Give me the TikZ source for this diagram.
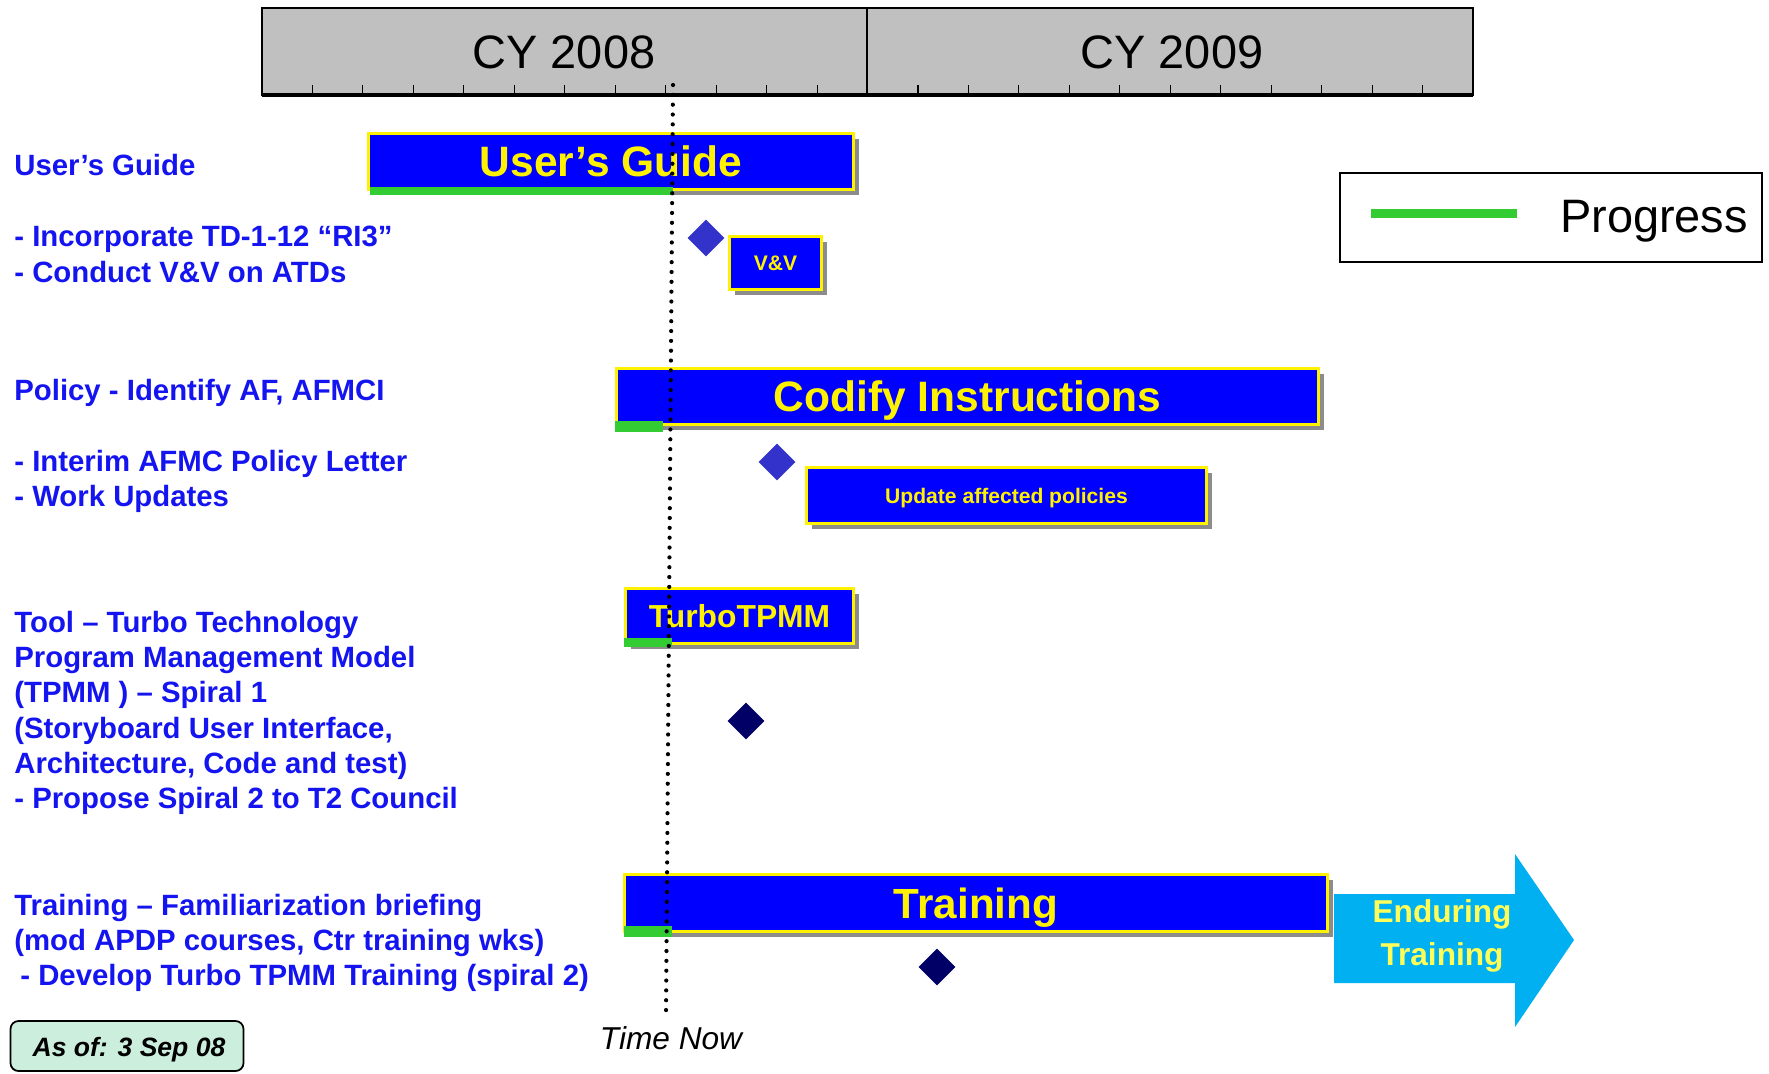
\documentclass[tikz,border=0pt]{standalone}
\usepackage{fontspec}
\setmainfont{Liberation Sans}
\usetikzlibrary{shapes.geometric,shadows}

\definecolor{barblue}{RGB}{0,0,255}
\definecolor{txtblue}{RGB}{20,20,240}
\definecolor{progress}{RGB}{51,204,51}
\definecolor{msblue}{RGB}{51,51,204}
\definecolor{msnavy}{RGB}{0,0,102}
\definecolor{hdrgray}{RGB}{192,192,192}
\definecolor{endurcyan}{RGB}{0,176,240}
\definecolor{endurtext}{RGB}{255,255,90}
\definecolor{asofgreen}{RGB}{204,238,221}

\tikzset{
  task/.style={draw=yellow, line width=2pt, fill=barblue, text=yellow, inner sep=0pt, text depth=0pt,
    drop shadow={shadow xshift=1mm, shadow yshift=-1mm, fill=black!45, opacity=1}},
  milestone/.style={diamond, inner sep=0pt, minimum size=7.4mm},
  lefttext/.style={anchor=west, text=txtblue, inner sep=0pt, align=left,
    font=\fontsize{16.7}{20.1}\selectfont\bfseries},
  nowline/.style={line width=2.4pt, line cap=round, dash pattern=on 0pt off 5.6pt},
}

\begin{document}
\begin{tikzpicture}[x=0.2mm,y=-0.2mm]
\useasboundingbox (0,0) rectangle (1769,1073);
%%Header
\draw[fill=hdrgray, line width=1pt] (262,8) rectangle (1473,95);
\foreach \m in {1,...,23}
  \draw[line width=0.6pt] ({262+\m*50.46},95) -- ++(0,-10);
\draw[line width=1.3pt] (867,8) -- (867,95);
\draw[line width=2pt] (262,95) -- (1473,95);
\node (cy8) at (564,52) {\fontsize{26.7}{30}\selectfont CY 2008};
\node (cy9) at (1172,52) {\fontsize{26.7}{30}\selectfont CY 2009};

%%Left column
\node[lefttext] (lug) at (14,165) {User’s Guide};
\node[lefttext] (lvv) at (14,254.5) {- Incorporate TD-1-12 “RI3”\\- Conduct V\&V on ATDs};
\node[lefttext] (lpol) at (14,392.5) {Policy - Identify AF, AFMCI};
\node[lefttext] (lint) at (14,481.5) {- Interim AFMC Policy Letter\\- Work Updates};
\node[lefttext] (ltool) at (14,713) {Tool – Turbo Technology\\Program Management Model\\(TPMM ) – Spiral 1\\(Storyboard User Interface,\\Architecture, Code and test)\\- Propose Spiral 2 to T2 Council};
\node[lefttext] (ltrn) at (14,943) {Training – Familiarization briefing\\(mod APDP courses, Ctr training wks)\\\hspace{1.2mm}- Develop Turbo TPMM Training (spiral 2)};

%%Bars
\node[task, minimum width=97mm, minimum height=11.2mm, font=\fontsize{24.2}{28}\selectfont\bfseries] (ug) at (611,161.5) {User’s Guide};
\fill[progress] (370,187) rectangle (673,195);
\node[task, minimum width=18.4mm, minimum height=10.6mm, font=\fontsize{12}{14}\selectfont\bfseries] (vv) at (775.5,263) {V\&V};
\node[milestone, fill=msblue] (m1) at (706,238) {};

\node[task, minimum width=140.4mm, minimum height=11.2mm, font=\fontsize{24.2}{28}\selectfont\bfseries] (cod) at (967.5,396.5) {Codify Instructions};
\fill[progress] (615,421) rectangle (663,432);
\node[task, minimum width=80mm, minimum height=11.2mm, font=\fontsize{12}{14}\selectfont\bfseries] (upd) at (1006.5,495.5) {Update affected policies};
\node[milestone, fill=msblue] (m2) at (777,462) {};

\node[task, minimum width=45.6mm, minimum height=11mm, font=\fontsize{18.1}{21}\selectfont\bfseries] (tpmm) at (739.5,616) {TurboTPMM};
\fill[progress] (624,638) rectangle (672,647);
\node[milestone, fill=msnavy] (m3) at (746,721) {};

\node[task, minimum width=140.6mm, minimum height=11.4mm, font=\fontsize{24}{28}\selectfont\bfseries] (trn) at (976,903) {Training};
\fill[progress] (624,926) rectangle (672,937);
\node[milestone, fill=msnavy] (m4) at (937,967) {};

%%Enduring arrow
\fill[endurcyan] (1334,894) -- (1515,894) -- (1515,854) -- (1574,940)
  -- (1515,1027) -- (1515,983) -- (1334,983) -- cycle;
\node[text=endurtext, align=center, font=\fontsize{18}{24.5}\selectfont\bfseries] (endur) at (1442,935.5) {Enduring\\Training};

%%Time now
\coordinate (tntop) at (673,85);
\coordinate (tnbot) at (666,1015);
\draw[nowline] (tntop) -- (tnbot);
\node[font=\fontsize{18}{21}\selectfont\itshape] (tnow) at (671,1038) {Time Now};

%%Legend
\node[draw, line width=1pt, minimum width=84.4mm, minimum height=17.8mm] (leg) at (1551,217.5) {};
\coordinate (lga) at (1371,213);
\coordinate (lgb) at (1517,213);
\draw[progress, line width=1.8mm] (lga) -- (lgb);
\node[font=\fontsize{26.7}{30}\selectfont] (lgtxt) at (1654,221.5) {Progress};

%%Date
\node[draw, line width=1pt, fill=asofgreen, rounded corners=1.6mm, minimum width=46.6mm, minimum height=10mm] (asofbox) at (127,1046) {};
\node[font=\fontsize{15.1}{18}\selectfont\bfseries\itshape] (asof) at (129,1050) {As of: 3 Sep 08};

\end{tikzpicture}
\end{document}
